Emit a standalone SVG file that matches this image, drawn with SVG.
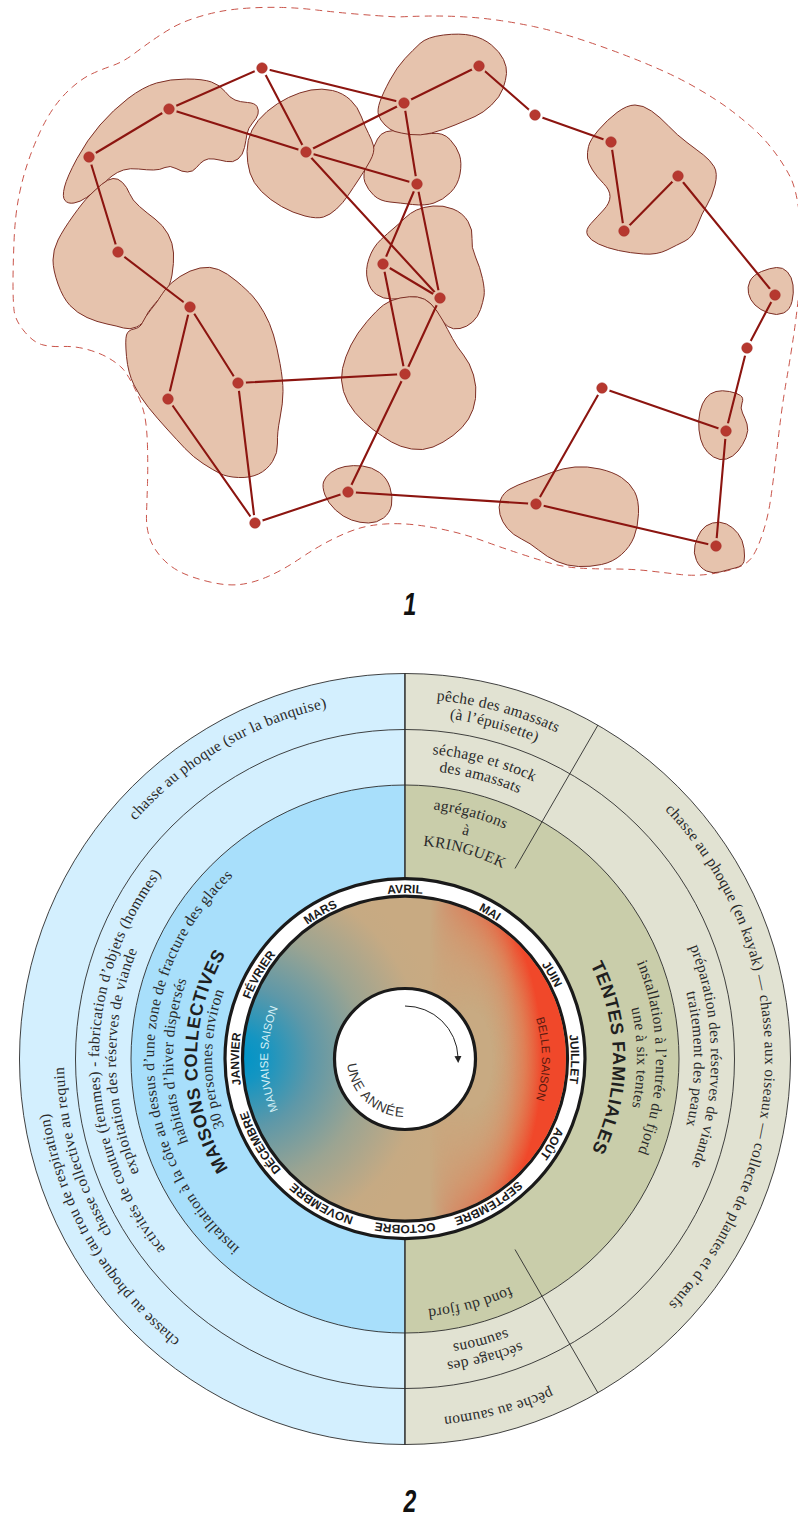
<svg xmlns="http://www.w3.org/2000/svg" xmlns:xlink="http://www.w3.org/1999/xlink" width="798" height="1517" viewBox="0 0 798 1517">
<style>
.blob{fill:#e6c3ad;stroke:#7d2f25;stroke-width:1}
.edge{stroke:#8c1510;stroke-width:2.1;fill:none}
.node{fill:#b6382f;stroke:#a5302a;stroke-width:.5}
.ring{stroke:#2c2c2c;stroke-width:.9}
.s{font-family:"Liberation Serif",serif;font-size:15.5px;fill:#2a2a2a;letter-spacing:.32px;text-anchor:middle}
.m{font-family:"Liberation Sans",sans-serif;font-size:12px;font-weight:700;fill:#1a1a1a;text-anchor:middle}
.h{font-family:"Liberation Sans",sans-serif;font-size:18px;font-weight:700;fill:#1f1f1f;letter-spacing:.6px;text-anchor:middle}
.l{font-family:"Liberation Sans",sans-serif;font-size:11.5px;text-anchor:middle}
.n{font-family:"Liberation Sans",sans-serif;font-size:32px;font-weight:700;font-style:italic;fill:#111;text-anchor:middle}
</style>
<defs>
<mask id="gaps" maskUnits="userSpaceOnUse" x="0" y="0" width="798" height="620">
<rect width="798" height="620" fill="#fff"/>
<g fill="#000">
<circle cx="89" cy="157" r="8"/><circle cx="169" cy="109" r="8"/><circle cx="262" cy="68" r="8"/><circle cx="306" cy="152" r="8"/><circle cx="404" cy="103" r="8"/><circle cx="479" cy="66" r="8"/><circle cx="535" cy="115" r="8"/><circle cx="611" cy="142" r="8"/><circle cx="678" cy="176" r="8"/><circle cx="624" cy="231" r="8"/><circle cx="775" cy="295" r="8"/><circle cx="747" cy="348" r="8"/><circle cx="726" cy="431" r="8"/><circle cx="716" cy="546" r="8"/><circle cx="602" cy="388" r="8"/><circle cx="536" cy="504" r="8"/><circle cx="348" cy="492" r="8"/><circle cx="255" cy="523" r="8"/><circle cx="168" cy="399" r="8"/><circle cx="238" cy="383" r="8"/><circle cx="190" cy="307" r="8"/><circle cx="118" cy="252" r="8"/><circle cx="405" cy="374" r="8"/><circle cx="440" cy="298" r="8"/><circle cx="383" cy="264" r="8"/><circle cx="417" cy="184" r="8"/>
</g>
</mask>
<radialGradient id="blue" gradientUnits="userSpaceOnUse" cx="240" cy="1058" r="205">
<stop offset="0" stop-color="#0094c7"/><stop offset=".12" stop-color="#1495c2"/><stop offset=".35" stop-color="#5e98a8"/><stop offset=".62" stop-color="#9ba492"/><stop offset=".9" stop-color="#c6aa83"/><stop offset="1" stop-color="#c8aa82"/>
</radialGradient>
<radialGradient id="red" gradientUnits="userSpaceOnUse" cx="0" cy="0" r="1" gradientTransform="translate(470 1059) scale(100 220)">
<stop offset=".22" stop-color="#d88a5c" stop-opacity="0"/><stop offset=".4" stop-color="#df8257" stop-opacity=".45"/><stop offset=".55" stop-color="#e86f45" stop-opacity=".75"/><stop offset=".72" stop-color="#f0482a"/><stop offset="1" stop-color="#f0482a"/>
</radialGradient>
<linearGradient id="fadeX" gradientUnits="userSpaceOnUse" x1="430" y1="0" x2="515" y2="0"><stop offset="0" stop-color="#000"/><stop offset="1" stop-color="#fff"/></linearGradient>
<mask id="redMask" maskUnits="userSpaceOnUse" x="240" y="890" width="330" height="340"><rect x="240" y="890" width="330" height="340" fill="url(#fadeX)"/></mask>
<marker id="ah" markerWidth="8" markerHeight="8" refX="1" refY="4" orient="auto" markerUnits="userSpaceOnUse"><path d="M0 .5L7 4L0 7.5Z" fill="#222"/></marker>
<path id="c360" d="M405 1419A360 360 0 1 1 405 699A360 360 0 1 1 405 1419"/>
<path id="c343" d="M405 1402A343 343 0 1 1 405 716A343 343 0 1 1 405 1402"/>
<path id="c341" d="M405 1400A341 341 0 1 1 405 718A341 341 0 1 1 405 1400"/>
<path id="c306" d="M405 1365A306 306 0 1 1 405 753A306 306 0 1 1 405 1365"/>
<path id="c289" d="M405 1348A289 289 0 1 1 405 770A289 289 0 1 1 405 1348"/>
<path id="c251" d="M405 1310A251 251 0 1 1 405 808A251 251 0 1 1 405 1310"/>
<path id="c232" d="M405 1291A232 232 0 1 1 405 827A232 232 0 1 1 405 1291"/>
<path id="c214" d="M405 1273A214 214 0 1 1 405 845A214 214 0 1 1 405 1273"/>
<path id="c208" d="M405 1267A208 208 0 1 1 405 851A208 208 0 1 1 405 1267"/>
<path id="c193" d="M405 1252A193 193 0 1 1 405 866A193 193 0 1 1 405 1252"/>
<path id="c166" d="M405 1225A166 166 0 1 1 405 893A166 166 0 1 1 405 1225"/>
<path id="c137" d="M405 1196A137 137 0 1 1 405 922A137 137 0 1 1 405 1196"/>
<path id="cc58" d="M405 1001A58 58 0 1 0 405 1117A58 58 0 1 0 405 1001"/>
</defs>
<rect width="798" height="1517" fill="#fff"/>

<g id="map1">
<path id="territory" fill="none" stroke="#c9544a" stroke-width="1" stroke-dasharray="7 5" d="M382 16Q367 15 350 13.5Q333 12 316.5 10Q300 8 283.5 7.5Q267 7 250 8Q233 9 220 11.5Q207 14 193.5 18.5Q180 23 170 29Q160 35 151.5 41Q143 47 133 54.5Q123 62 111.5 66Q100 70 91.5 74Q83 78 73 86.5Q63 95 55 106Q47 117 40 132Q33 147 27.5 163.5Q22 180 18.5 198.5Q15 217 14 242Q13 267 13 283.5Q13 300 14 310Q15 320 24 331Q33 342 41.5 344.5Q50 347 62.5 346.5Q75 346 87.5 349.5Q100 353 108.5 358Q117 363 122 368Q127 373 134.5 388Q142 403 144.5 415Q147 427 147.5 447Q148 467 147.5 483.5Q147 500 146.5 513.5Q146 527 149.5 537.5Q153 548 161.5 557.5Q170 567 181.5 572.5Q193 578 210 582Q227 586 240 584.5Q253 583 268 576.5Q283 570 300 558.5Q317 547 332 539.5Q347 532 358.5 528.5Q370 525 385 524Q400 523 416.5 525Q433 527 450 531Q467 535 483.5 541Q500 547 516.5 552.5Q533 558 548 562.5Q563 567 578 568Q593 569 613 569Q633 569 650 571Q667 573 680 574.5Q693 576 706.5 574.5Q720 573 733.5 569Q747 565 752.5 556.5Q758 548 763 532.5Q768 517 770.5 500Q773 483 775.5 461.5Q778 440 780.5 420Q783 400 786.5 380Q790 360 793.5 336.5Q797 313 800 281.5Q803 250 800 220Q797 190 790 176.5Q783 163 773 150Q763 137 751.5 127Q740 117 728.5 108.5Q717 100 700 90Q683 80 666.5 72.5Q650 65 633.5 58.5Q617 52 600 46Q583 40 566.5 35Q550 30 533.5 26.5Q517 23 500 20.5Q483 18 466.5 17Q450 16 435 16Q420 16 397 17L382 16"/>
<g id="zones">
<path class="blob" d="M64.5 187Q67 177 77 158.5Q87 140 100 125Q113 110 128 98.5Q143 87 156.5 83Q170 79 186.5 79Q203 79 211.5 82Q220 85 225 91.5Q230 98 235 100Q240 102 247.5 102.5Q255 103 257 106.5Q259 110 258 114Q257 118 252.5 123Q248 128 247 134Q246 140 244.5 147.5Q243 155 238 159Q233 163 226.5 161.5Q220 160 214 159Q208 158 204 160.5Q200 163 196.5 167.5Q193 172 187.5 172Q182 172 176 168.5Q170 165 165 167.5Q160 170 153.5 170Q147 170 138.5 169Q130 168 123.5 170Q117 172 112 176Q107 180 100 186.5Q93 193 86.5 197.5Q80 202 74 203Q68 204 65 200.5Q62 197 64.5 187Z"/>
<path class="blob" d="M113 178.5Q118 178 122.5 182.5Q127 187 129.5 193.5Q132 200 139.5 206.5Q147 213 155 219Q163 225 168 234Q173 243 173.5 253Q174 263 172 275Q170 287 164 293.5Q158 300 152.5 306.5Q147 313 145 318.5Q143 324 136.5 327Q130 330 123.5 328Q117 326 107 324Q97 322 87 317.5Q77 313 70 305.5Q63 298 58 284Q53 270 53 260Q53 250 58 240Q63 230 73 216Q83 202 89 196Q95 190 101.5 184.5Q108 179 113 178.5Z"/>
<path class="blob" d="M165 290Q170 283 180 276.5Q190 270 200 268Q210 266 218.5 269.5Q227 273 237 281.5Q247 290 252.5 296Q258 302 264 312.5Q270 323 273.5 335Q277 347 280 363.5Q283 380 283 391.5Q283 403 280 418Q277 433 277.5 443Q278 453 272.5 461.5Q267 470 258.5 474Q250 478 238.5 477.5Q227 477 220 473.5Q213 470 203 463.5Q193 457 185 448.5Q177 440 167 429Q157 418 148.5 407.5Q140 397 134 385Q128 373 126.5 356.5Q125 340 126.5 335Q128 330 134 329Q140 328 142.5 322.5Q145 317 151 309.5Q157 302 158.5 299.5Q160 297 165 290Z"/>
<path class="blob" d="M401.5 131.5Q420 135 431.5 133.5Q443 132 450 139.5Q457 147 459.5 155Q462 163 460 174Q458 185 450.5 192.5Q443 200 434 203Q425 206 412.5 204.5Q400 203 390 202Q380 201 374 195.5Q368 190 365 182.5Q362 175 367 162.5Q372 150 377.5 139Q383 128 401.5 131.5Z"/>
<path class="blob" d="M252 130Q257 120 267 111.5Q277 103 288.5 97.5Q300 92 311 90Q322 88 332.5 90.5Q343 93 350.5 100Q358 107 361.5 117Q365 127 368.5 133.5Q372 140 373.5 146Q375 152 370 161Q365 170 359 179Q353 188 348 195.5Q343 203 336.5 209Q330 215 323.5 217Q317 219 305 216Q293 213 281.5 206.5Q270 200 261.5 191.5Q253 183 250 173Q247 163 247 151.5Q247 140 252 130Z"/>
<path class="blob" d="M380 101.5Q383 93 390 80Q397 67 405 58.5Q413 50 420 43.5Q427 37 443.5 35Q460 33 471.5 35.5Q483 38 491.5 45Q500 52 503.5 59.5Q507 67 506.5 73.5Q506 80 503 88.5Q500 97 491.5 105Q483 113 475 116.5Q467 120 455 125Q443 130 431.5 133Q420 136 410 134.5Q400 133 395 131.5Q390 130 385 125Q380 120 378.5 115Q377 110 380 101.5Z"/>
<path class="blob" d="M394 228Q400 223 405 218Q410 213 416.5 210Q423 207 433 206Q443 205 453 209Q463 213 468 221.5Q473 230 472 238.5Q471 247 475.5 257Q480 267 482.5 278.5Q485 290 484 296Q483 302 480.5 309.5Q478 317 472.5 322Q467 327 460 328.5Q453 330 448 326.5Q443 323 439 315.5Q435 308 431 304Q427 300 421 298Q415 296 407.5 297.5Q400 299 391.5 299Q383 299 376.5 294.5Q370 290 367.5 280Q365 270 369 258.5Q373 247 380.5 240Q388 233 394 228Z"/>
<path class="blob" d="M342.5 368.5Q345 357 351 345Q357 333 367 321.5Q377 310 383.5 305Q390 300 400 298Q410 296 417.5 297Q425 298 431 304Q437 310 442.5 320Q448 330 452.5 338.5Q457 347 463.5 355Q470 363 473.5 375Q477 387 475.5 398.5Q474 410 468.5 419Q463 428 453 435.5Q443 443 433 447Q423 451 411.5 449Q400 447 391.5 442Q383 437 373 429.5Q363 422 355 412.5Q347 403 343.5 391.5Q340 380 342.5 368.5Z"/>
<path class="blob" d="M588.5 146.5Q590 140 598.5 130Q607 120 617 112.5Q627 105 635 105Q643 105 651.5 111Q660 117 668.5 126Q677 135 687 142.5Q697 150 703.5 155Q710 160 714 166.5Q718 173 715 185Q712 197 707 205Q702 213 697.5 225Q693 237 685 241Q677 245 667 250Q657 255 643.5 254Q630 253 618.5 250.5Q607 248 598.5 244Q590 240 587.5 235Q585 230 591 223.5Q597 217 603.5 210Q610 203 610 196.5Q610 190 603.5 183.5Q597 177 592.5 170Q588 163 587.5 158Q587 153 588.5 146.5Z"/>
<path class="blob" d="M750 281Q753 275 761.5 271.5Q770 268 776.5 267.5Q783 267 787.5 272Q792 277 793 285Q794 293 792 301.5Q790 310 783.5 313Q777 316 768.5 313Q760 310 755 305Q750 300 748.5 293.5Q747 287 750 281Z"/>
<path class="blob" d="M700 411.5Q702 403 706 398Q710 393 716 391.5Q722 390 729.5 391.5Q737 393 740.5 395.5Q744 398 742 403Q740 408 742.5 413Q745 418 747 424Q749 430 746 437.5Q743 445 738 451Q733 457 726.5 459Q720 461 713.5 457Q707 453 703.5 446.5Q700 440 699 430Q698 420 700 411.5Z"/>
<path class="blob" d="M695 545Q697 537 701 531Q705 525 712.5 523Q720 521 726.5 524Q733 527 738 533.5Q743 540 744 548.5Q745 557 744 561.5Q743 566 735 568Q727 570 720 572Q713 574 706.5 571Q700 568 696.5 560.5Q693 553 695 545Z"/>
<path class="blob" d="M500.5 500Q503 493 510 489Q517 485 528.5 481Q540 477 551.5 472.5Q563 468 575 467Q587 466 600 469Q613 472 621.5 477.5Q630 483 634.5 491.5Q639 500 638.5 513.5Q638 527 634 537Q630 547 621.5 554.5Q613 562 601.5 564.5Q590 567 578.5 566.5Q567 566 557 561.5Q547 557 538.5 550Q530 543 521.5 539Q513 535 507.5 528.5Q502 522 500 514.5Q498 507 500.5 500Z"/>
<path class="blob" d="M323.5 482Q325 477 331 472.5Q337 468 345 466.5Q353 465 362.5 466Q372 467 379.5 472.5Q387 478 390 487.5Q393 497 391.5 505Q390 513 383.5 518Q377 523 368.5 523Q360 523 351.5 520Q343 517 335.5 510Q328 503 325 495Q322 487 323.5 482Z"/>
</g>
<g id="connectors" class="edge" mask="url(#gaps)">
<path d="M89 157L169 109M169 109L262 68M169 109L306 152M262 68L306 152M262 68L404 103M306 152L404 103M306 152L417 184M306 152L440 298M404 103L479 66M479 66L535 115M535 115L611 142M611 142L624 231M624 231L678 176M678 176L775 295M775 295L747 348M747 348L726 431M726 431L716 546M726 431L602 388M602 388L536 504M536 504L716 546M536 504L348 492M348 492L255 523M348 492L405 374M255 523L168 399M255 523L238 383M168 399L190 307M238 383L190 307M238 383L405 374M190 307L118 252M118 252L89 157M404 103L417 184M417 184L383 264M417 184L440 298M383 264L440 298M383 264L405 374M405 374L440 298"/>
</g>
<g id="n1"><circle class="node" cx="89" cy="157" r="5.3"/></g>
<g id="n2"><circle class="node" cx="169" cy="109" r="5.3"/></g>
<g id="n3"><circle class="node" cx="262" cy="68" r="5.3"/></g>
<g id="n4"><circle class="node" cx="306" cy="152" r="5.3"/></g>
<g id="n5"><circle class="node" cx="404" cy="103" r="5.3"/></g>
<g id="n6"><circle class="node" cx="479" cy="66" r="5.3"/></g>
<g id="n7"><circle class="node" cx="535" cy="115" r="5.3"/></g>
<g id="n8"><circle class="node" cx="611" cy="142" r="5.3"/></g>
<g id="n9"><circle class="node" cx="678" cy="176" r="5.3"/></g>
<g id="n10"><circle class="node" cx="624" cy="231" r="5.3"/></g>
<g id="n11"><circle class="node" cx="775" cy="295" r="5.3"/></g>
<g id="n12"><circle class="node" cx="747" cy="348" r="5.3"/></g>
<g id="n13"><circle class="node" cx="726" cy="431" r="5.3"/></g>
<g id="n14"><circle class="node" cx="716" cy="546" r="5.3"/></g>
<g id="n15"><circle class="node" cx="602" cy="388" r="5.3"/></g>
<g id="n16"><circle class="node" cx="536" cy="504" r="5.3"/></g>
<g id="n17"><circle class="node" cx="348" cy="492" r="5.3"/></g>
<g id="n18"><circle class="node" cx="255" cy="523" r="5.3"/></g>
<g id="n19"><circle class="node" cx="168" cy="399" r="5.3"/></g>
<g id="n20"><circle class="node" cx="238" cy="383" r="5.3"/></g>
<g id="n21"><circle class="node" cx="190" cy="307" r="5.3"/></g>
<g id="n22"><circle class="node" cx="118" cy="252" r="5.3"/></g>
<g id="n23"><circle class="node" cx="405" cy="374" r="5.3"/></g>
<g id="n24"><circle class="node" cx="440" cy="298" r="5.3"/></g>
<g id="n25"><circle class="node" cx="383" cy="264" r="5.3"/></g>
<g id="n26"><circle class="node" cx="417" cy="184" r="5.3"/></g>
<text class="n" transform="translate(410 615) scale(.72 1)">1</text>
</g>

<g id="calendar">
<path class="ring" fill="#d3effe" d="M405 673.5A385.5 385.5 0 0 0 405 1444.5Z"/>
<path class="ring" fill="#e1e2d2" d="M405 673.5A385.5 385.5 0 0 1 405 1444.5Z"/>
<path class="ring" fill="none" d="M405 729.5A329.5 329.5 0 0 0 405 1388.5A329.5 329.5 0 0 0 405 729.5"/>
<path class="ring" fill="#a8dffb" d="M405 785A274 274 0 0 0 405 1333Z"/>
<path class="ring" fill="#c9cdaa" d="M405 785A274 274 0 0 1 405 1333Z"/>
<path class="ring" fill="none" d="M405 673.5V1444.5M598 725L515 868.5M598 1393L515 1249.5" stroke-width=".8"/>
<g id="months-ring"><circle cx="405" cy="1058.7" r="180" fill="#fff" stroke="#1a1a1a" stroke-width="3.2"/></g>
<g id="seasons">
<circle cx="405" cy="1058.7" r="162.5" fill="url(#blue)" stroke="#1a1a1a" stroke-width="3.2"/>
<circle cx="405" cy="1058.7" r="161" fill="url(#red)" mask="url(#redMask)"/>
</g>
<g id="year"><circle cx="405" cy="1059" r="70.5" fill="#fff" stroke="#1a1a1a" stroke-width="3.2"/>
<path d="M405 1006A53 53 0 0 1 458 1057" fill="none" stroke="#222" stroke-width="1" marker-end="url(#ah)"/>
<text font-family="Liberation Sans,sans-serif" font-size="13.5" fill="#333" text-anchor="middle" letter-spacing=".8" transform="rotate(43 405 1059)"><textPath href="#cc58" startOffset="50%">UNE ANNÉE</textPath></text>
</g>
<g id="month-labels">
<text class="m"><textPath href="#c166" startOffset="50%">AVRIL</textPath></text>
<text class="m" transform="rotate(30 405 1059)"><textPath href="#c166" startOffset="50%">MAI</textPath></text>
<text class="m" transform="rotate(60 405 1059)"><textPath href="#c166" startOffset="50%">JUIN</textPath></text>
<text class="m" transform="rotate(90 405 1059)"><textPath href="#c166" startOffset="50%">JUILLET</textPath></text>
<text class="m" transform="rotate(120 405 1059)"><textPath href="#c166" startOffset="50%">AOÛT</textPath></text>
<text class="m" transform="rotate(150 405 1059)"><textPath href="#c166" startOffset="50%">SEPTEMBRE</textPath></text>
<text class="m" transform="rotate(180 405 1059)"><textPath href="#c166" startOffset="50%">OCTOBRE</textPath></text>
<text class="m" transform="rotate(210 405 1059)"><textPath href="#c166" startOffset="50%">NOVEMBRE</textPath></text>
<text class="m" transform="rotate(240 405 1059)"><textPath href="#c166" startOffset="50%">DÉCEMBRE</textPath></text>
<text class="m" transform="rotate(270 405 1059)"><textPath href="#c166" startOffset="50%">JANVIER</textPath></text>
<text class="m" transform="rotate(300 405 1059)"><textPath href="#c166" startOffset="50%">FÉVRIER</textPath></text>
<text class="m" transform="rotate(330 405 1059)"><textPath href="#c166" startOffset="50%">MARS</textPath></text>
</g>
<text class="l" fill="#5a1a10" transform="rotate(90 405 1059)"><textPath href="#c137" startOffset="50%">BELLE SAISON</textPath></text>
<text class="l" fill="#d6f0f6" transform="rotate(270 405 1059)"><textPath href="#c137" startOffset="50%">MAUVAISE SAISON</textPath></text>
<g id="labels-winter">
<text class="s" transform="rotate(-30.5 405 1059)"><textPath href="#c360" startOffset="50%">chasse au phoque (sur la banquise)</textPath></text>
<text class="s" transform="rotate(240 405 1059)"><textPath href="#c360" startOffset="50%">chasse au phoque (au trou de respiration)</textPath></text>
<text class="s" transform="rotate(254 405 1059)"><textPath href="#c341" startOffset="50%">chasse collective au requin</textPath></text>
<text class="s" transform="rotate(269.4 405 1059)"><textPath href="#c306" startOffset="50%">activités de couture (femmes) - fabrication d’objets (hommes)</textPath></text>
<text class="s" transform="rotate(269.5 405 1059)"><textPath href="#c289" startOffset="50%">exploitation des réserves de viande</textPath></text>
<text class="s" transform="rotate(269 405 1059)"><textPath href="#c251" startOffset="50%">installation à la côte au dessus d’une zone de fracture des glaces</textPath></text>
<text class="s" transform="rotate(269.5 405 1059)"><textPath href="#c232" startOffset="50%">habitats d’hiver dispersés</textPath></text>
<text class="h" transform="rotate(269.3 405 1059)"><textPath href="#c208" startOffset="50%">MAISONS COLLECTIVES</textPath></text>
<text class="s" transform="rotate(270 405 1059)"><textPath href="#c193" startOffset="50%">30 personnes environ</textPath></text>
</g>
<g id="labels-summer">
<text class="s" transform="rotate(15 405 1059)"><textPath href="#c360" startOffset="50%">pêche des amassats</textPath></text>
<text class="s" transform="rotate(15 405 1059)"><textPath href="#c343" startOffset="50%">(à l’épuisette)</textPath></text>
<text class="s" transform="rotate(15 405 1059)"><textPath href="#c306" startOffset="50%">séchage et stock</textPath></text>
<text class="s" transform="rotate(15 405 1059)"><textPath href="#c289" startOffset="50%">des amassats</textPath></text>
<text class="s" transform="rotate(15 405 1059)"><textPath href="#c251" startOffset="50%">agrégations</textPath></text>
<text class="s" transform="rotate(15 405 1059)"><textPath href="#c232" startOffset="50%">à</textPath></text>
<text class="s" transform="rotate(16 405 1059)"><textPath href="#c214" startOffset="50%">KRINGUEK</textPath></text>
<text class="s" transform="rotate(89.6 405 1059)"><textPath href="#c360" startOffset="50%">chasse au phoque (en kayak) — chasse aux oiseaux — collecte de plantes et d’œufs</textPath></text>
<text class="s" transform="rotate(89.5 405 1059)"><textPath href="#c306" startOffset="50%">préparation des réserves de viande</textPath></text>
<text class="s" transform="rotate(90 405 1059)"><textPath href="#c289" startOffset="50%">traitement des peaux</textPath></text>
<text class="s" transform="rotate(89.7 405 1059)"><textPath href="#c251" startOffset="50%">installation à l’entrée du fjord</textPath></text>
<text class="s" transform="rotate(89.7 405 1059)"><textPath href="#c232" startOffset="50%">une à six tentes</textPath></text>
<text class="h" transform="rotate(89.7 405 1059)"><textPath href="#c208" startOffset="50%">TENTES FAMILIALES</textPath></text>
<text class="s" transform="rotate(165 405 1059)"><textPath href="#c360" startOffset="50%">pêche au saumon</textPath></text>
<text class="s" transform="rotate(165 405 1059)"><textPath href="#c306" startOffset="50%">séchage des</textPath></text>
<text class="s" transform="rotate(165 405 1059)"><textPath href="#c289" startOffset="50%">saumons</textPath></text>
<text class="s" transform="rotate(165 405 1059)"><textPath href="#c251" startOffset="50%">fond du fjord</textPath></text>
</g>
<text class="n" transform="translate(410 1512) scale(.72 1)">2</text>
</g>
</svg>
